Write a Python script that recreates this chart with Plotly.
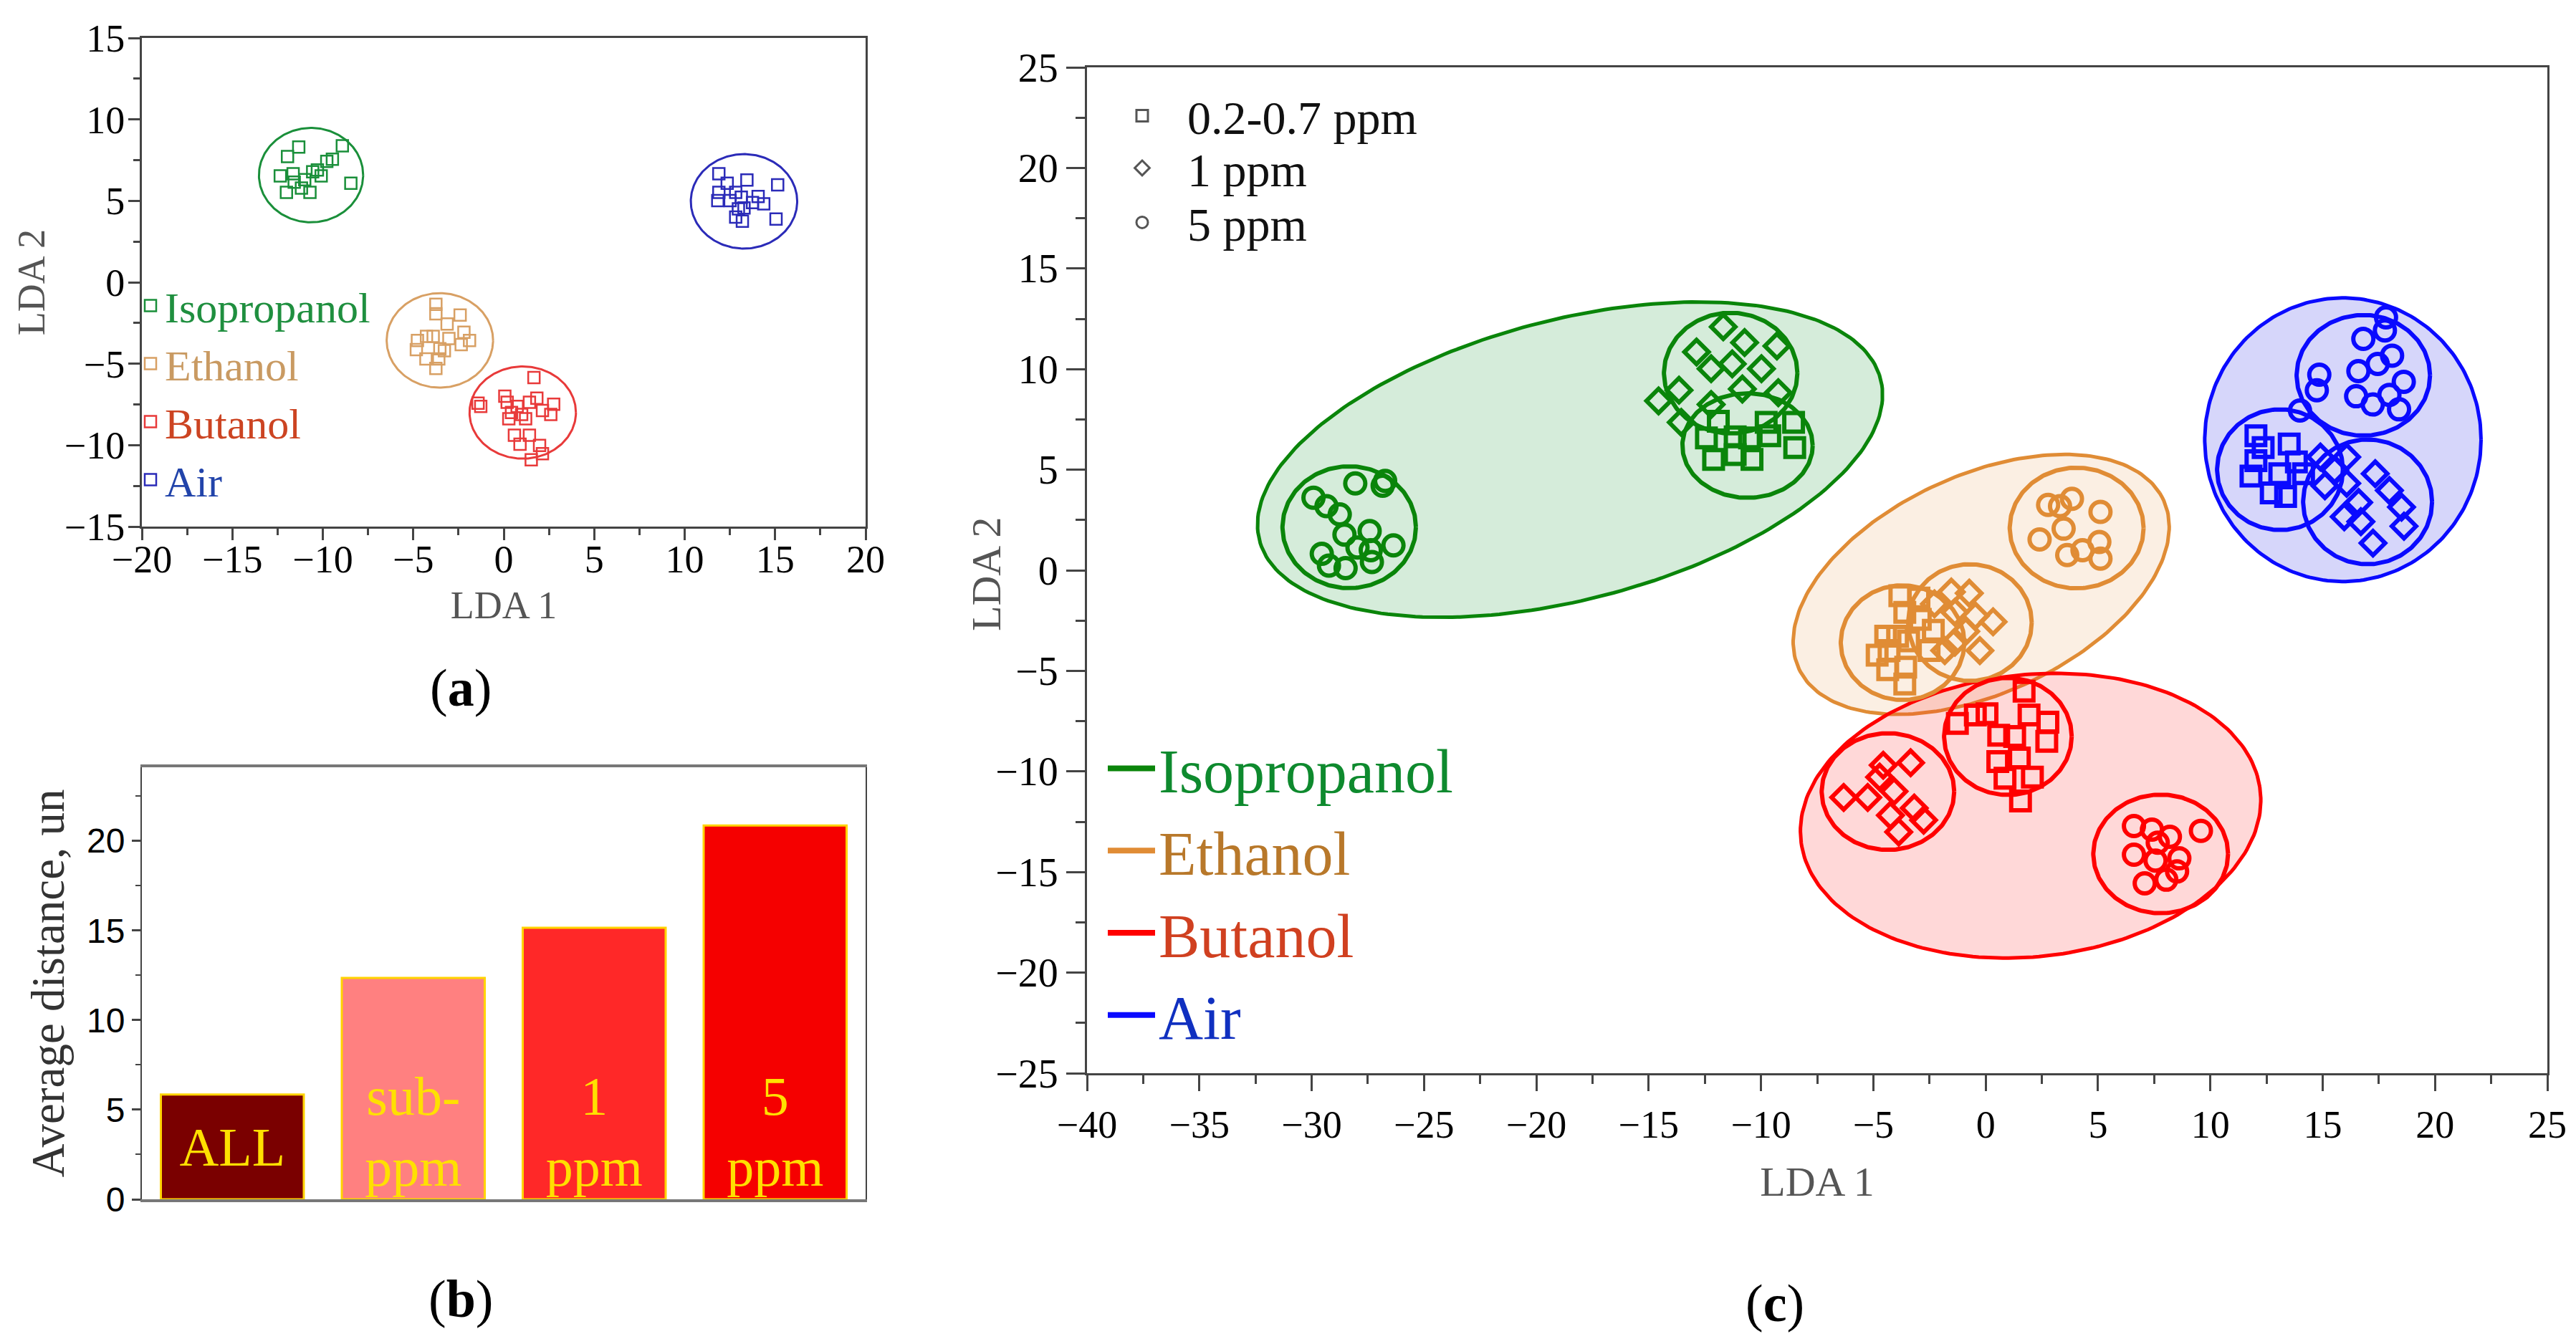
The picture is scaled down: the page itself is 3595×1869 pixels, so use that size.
import numpy as np
import plotly.graph_objects as go

SERIF = "Liberation Serif, Times New Roman, serif"
SANS = "Liberation Sans Narrow, Liberation Sans, Arial, sans-serif"

# ---- panel (a): LDA of all concentrations ----
A_ISO_X = [-11.95, -11.33, -12.35, -11.64, -12.01, -11.58, -11.18, -10.71, -10.56, -10.09, -9.78, -9.47, -8.92, -8.45, -11.0, -10.3]
A_ISO_Y = [7.72, 8.30, 6.53, 6.66, 5.52, 6.15, 5.78, 5.52, 6.79, 6.53, 7.42, 7.55, 8.38, 6.08, 6.3, 6.9]
A_ETH_X = [-3.75, -3.75, -2.41, -3.13, -4.27, -4.77, -4.83, -4.30, -3.75, -3.59, -3.53, -3.03, -2.35, -1.89, -2.2, -3.9, -3.28]
A_ETH_Y = [-1.35, -1.93, -2.01, -2.56, -3.32, -3.57, -4.13, -4.71, -5.29, -4.71, -4.08, -3.45, -3.83, -3.57, -3.07, -3.32, -4.2]
A_BUT_X = [-1.42, -1.27, 0.06, 0.19, 0.43, 0.74, 0.99, 1.21, 1.42, 1.67, 1.83, 2.14, 2.6, 2.76, 0.59, 0.9, 1.42, 1.98, 1.52, 2.14, 0.28]
A_BUT_Y = [-7.42, -7.62, -6.99, -7.37, -8.0, -7.62, -8.12, -8.38, -7.37, -5.85, -7.11, -7.87, -8.12, -7.49, -9.39, -9.94, -9.39, -10.02, -10.9, -10.52, -8.38]
A_AIR_X = [11.89, 12.35, 11.89, 11.83, 12.51, 12.82, 13.13, 13.44, 12.97, 13.28, 13.19, 12.82, 14.06, 14.37, 15.14, 15.05, 13.75]
A_AIR_Y = [6.66, 6.08, 5.52, 5.02, 5.02, 5.52, 5.22, 6.28, 4.51, 4.56, 3.75, 4.0, 5.27, 4.82, 5.98, 3.88, 4.89]
# cluster circles (cx, cy, rx, ry)
A_CIRCLES = [(-10.65, 6.58, 2.88, 2.9), (-3.53, -3.57, 2.94, 2.9), (1.05, -8.0, 2.94, 2.83), (13.28, 4.97, 2.94, 2.9)]

GAS_NAMES = ["Isopropanol", "Ethanol", "Butanol", "Air"]
A_COLORS = ["#1a8f3a", "#d8a064", "#e83a3a", "#2b2bb8"]
A_TEXT_COLORS = ["#1f8f3f", "#c99a62", "#cc4422", "#2244aa"]

# ---- panel (b): average distance ----
BAR_CATS = ["ALL", "sub-ppm", "1 ppm", "5 ppm"]
BAR_TEXT = ["ALL", "sub-<br>ppm", "1<br>ppm", "5<br>ppm"]
BAR_VALUES = [5.85, 12.35, 15.15, 20.85]
BAR_COLORS = ["#7a0000", "#ff8080", "#ff2828", "#f50000"]

# ---- panel (c): LDA per concentration ----
C_ISO_CI_X = [-28.06, -26.73, -26.84, -29.92, -29.34, -28.75, -28.54, -27.42, -27.37, -26.36, -29.55, -29.23, -28.49, -27.32, -27.96]
C_ISO_CI_Y = [4.32, 4.44, 4.20, 3.61, 3.19, 2.78, 1.77, 1.95, 1.0, 1.24, 0.82, 0.23, 0.11, 0.41, 1.13]
C_ISO_DI_X = [-14.56, -13.55, -13.65, -12.22, -12.22, -11.68, -10.73, -9.29, -9.98, -10.83, -9.23, -12.87, -11.28]
C_ISO_DI_Y = [8.42, 7.35, 8.95, 10.02, 8.24, 12.10, 11.32, 11.15, 10.02, 9.01, 8.83, 10.85, 10.26]
C_ISO_SQ_X = [-12.43, -12.11, -11.15, -10.51, -10.40, -9.77, -8.55, -8.50, -9.61, -11.90, -11.15]
C_ISO_SQ_Y = [6.58, 5.51, 5.75, 6.58, 5.51, 7.35, 7.35, 6.10, 6.69, 7.41, 6.63]

C_ETH_CI_X = [3.31, 5.11, 2.40, 3.47, 5.06, 3.63, 5.11, 4.31, 3.84, 2.78]
C_ETH_CI_Y = [3.19, 2.90, 1.53, 2.07, 1.41, 0.76, 0.58, 1.0, 3.55, 3.25]
C_ETH_DI_X = [-2.28, -1.53, -0.73, -1.37, -0.46, 0.33, -0.89, -1.37, -0.26, -1.82]
C_ETH_DI_Y = [-1.67, -1.08, -1.14, -2.09, -2.27, -2.56, -3.04, -3.57, -3.99, -3.99]
C_ETH_SQ_X = [-3.82, -3.60, -2.91, -2.33, -3.92, -4.30, -4.83, -3.43, -2.52, -3.56, -4.36, -3.60, -2.97, -4.45]
C_ETH_SQ_Y = [-1.26, -2.09, -2.44, -2.98, -3.28, -3.99, -4.22, -3.51, -3.99, -4.82, -4.94, -5.65, -1.38, -3.28]

C_BUT_CI_X = [6.60, 7.40, 7.66, 6.60, 7.56, 8.20, 8.62, 8.52, 7.08, 8.04, 9.58]
C_BUT_CI_Y = [-12.71, -12.89, -13.54, -14.14, -14.43, -13.25, -14.32, -14.97, -15.56, -15.38, -12.95]
C_BUT_DI_X = [-6.32, -5.25, -4.56, -4.72, -3.34, -4.08, -4.24, -3.18, -2.76, -3.87]
C_BUT_DI_Y = [-11.29, -11.29, -9.69, -10.28, -9.57, -10.99, -12.18, -11.82, -12.42, -13.01]
C_BUT_SQ_X = [-1.26, 0.06, 1.71, 1.93, 2.77, 0.58, 1.29, 2.72, 0.54, 1.50, 2.08, 0.86, 1.55, -0.46]
C_BUT_SQ_Y = [-7.61, -7.13, -6.01, -7.19, -7.55, -8.20, -8.26, -8.50, -9.51, -9.33, -10.28, -10.34, -11.47, -7.19]

C_AIR_CI_X = [16.81, 17.77, 17.82, 14.85, 14.74, 13.99, 17.45, 18.09, 16.59, 16.49, 17.97, 18.61, 18.40, 17.23]
C_AIR_CI_Y = [11.50, 11.92, 12.57, 9.72, 8.95, 7.94, 10.26, 10.67, 9.90, 8.65, 8.72, 9.37, 8.0, 8.24]
C_AIR_DI_X = [14.90, 15.53, 16.07, 15.10, 16.07, 17.34, 16.60, 17.97, 15.96, 18.51, 17.24, 18.62, 16.70]
C_AIR_DI_Y = [5.63, 4.98, 5.63, 4.20, 4.32, 4.80, 3.37, 3.97, 2.66, 3.14, 1.35, 2.19, 2.42]
C_AIR_SQ_X = [12.03, 12.35, 13.51, 12.03, 13.09, 11.81, 12.71, 13.35, 13.83, 14.15]
C_AIR_SQ_Y = [6.69, 6.10, 6.28, 5.45, 4.80, 4.68, 3.85, 3.67, 5.39, 4.80]

# group ellipses (cx, cy, a, b, angle deg)
C_GROUP_ELL = [(-18.5, 5.5, 14.4, 6.9, 17.1), (-0.2, -0.7, 9.15, 5.3, 29.7),
               (2.0, -12.2, 10.3, 7.0, 8.0), (15.9, 6.49, 6.15, 7.05, 0.0)]
# concentration circles per gas: squares, diamonds, circles (cx, cy, rx, ry)
C_ISO_CIRC = [(-10.6, 6.2, 2.9, 2.6), (-11.35, 9.8, 2.97, 3.0), (-28.33, 2.14, 2.97, 3.03)]
C_ETH_CIRC = [(-3.7, -3.6, 2.75, 2.85), (-0.7, -2.6, 2.75, 2.9), (4.05, 2.10, 2.98, 3.0)]
C_BUT_CIRC = [(0.99, -8.26, 2.84, 2.91), (-4.35, -11.0, 2.95, 2.9), (7.79, -14.10, 3.0, 2.95)]
C_AIR_CIRC = [(13.1, 5.0, 2.8, 3.0), (17.0, 3.4, 2.87, 3.1), (16.81, 9.69, 2.97, 3.0)]

C_COLORS = ["#0a850a", "#e08c35", "#ff0000", "#0a0aff"]
C_FILLS = ["rgba(20,150,50,0.18)", "rgba(225,150,70,0.15)", "rgba(255,40,40,0.18)", "rgba(30,30,230,0.18)"]
C_TEXT_COLORS = ["#0e8a2e", "#b8782a", "#d04020", "#1030c0"]
CONC_NAMES = ["0.2-0.7 ppm", "1 ppm", "5 ppm"]
CONC_SYMBOLS = ["square-open", "diamond-open", "circle-open"]


def ellipse(cx, cy, a, b, ang=0.0, n=240):
    t = np.linspace(0, 2 * np.pi, n)
    th = np.radians(ang)
    x = cx + a * np.cos(t) * np.cos(th) - b * np.sin(t) * np.sin(th)
    y = cy + a * np.cos(t) * np.sin(th) + b * np.sin(t) * np.cos(th)
    return x, y


fig = go.Figure()

# panel (a)
a_points = [(A_ISO_X, A_ISO_Y), (A_ETH_X, A_ETH_Y), (A_BUT_X, A_BUT_Y), (A_AIR_X, A_AIR_Y)]
for i, (cx, cy, rx, ry) in enumerate(A_CIRCLES):
    ex, ey = ellipse(cx, cy, rx, ry)
    fig.add_trace(go.Scatter(x=ex, y=ey, mode="lines", line=dict(color=A_COLORS[i], width=3),
                             showlegend=False, hoverinfo="skip", xaxis="x", yaxis="y"))
for i, (px, py) in enumerate(a_points):
    fig.add_trace(go.Scatter(
        x=px, y=py, mode="markers", xaxis="x", yaxis="y",
        name="<span style='color:%s'>%s</span>" % (A_TEXT_COLORS[i], GAS_NAMES[i]),
        marker=dict(symbol="square-open", size=16, color=A_COLORS[i], line=dict(width=2.5)),
        legend="legend"))

# panel (b)
fig.add_trace(go.Bar(x=BAR_CATS[:1], y=BAR_VALUES[:1], text=BAR_TEXT[:1], width=0.79,
                     marker=dict(color=BAR_COLORS[:1], line=dict(color="#ffd400", width=3)),
                     textposition="inside", insidetextanchor="middle",
                     textfont=dict(family=SERIF, size=76, color="#ffe000"),
                     showlegend=False, xaxis="x2", yaxis="y2"))
fig.add_trace(go.Bar(x=BAR_CATS[1:], y=BAR_VALUES[1:], text=BAR_TEXT[1:], width=0.79,
                     marker=dict(color=BAR_COLORS[1:], line=dict(color="#ffd400", width=3)),
                     textposition="inside", insidetextanchor="start",
                     textfont=dict(family=SERIF, size=76, color="#ffe000"),
                     showlegend=False, xaxis="x2", yaxis="y2"))

# panel (c)
for i, (cx, cy, a, b, ang) in enumerate(C_GROUP_ELL):
    ex, ey = ellipse(cx, cy, a, b, ang)
    fig.add_trace(go.Scatter(x=ex, y=ey, mode="lines", fill="toself", fillcolor=C_FILLS[i],
                             line=dict(color=C_COLORS[i], width=5), showlegend=False,
                             hoverinfo="skip", xaxis="x3", yaxis="y3"))

c_circles = [C_ISO_CIRC, C_ETH_CIRC, C_BUT_CIRC, C_AIR_CIRC]
c_points = [
    [(C_ISO_SQ_X, C_ISO_SQ_Y), (C_ISO_DI_X, C_ISO_DI_Y), (C_ISO_CI_X, C_ISO_CI_Y)],
    [(C_ETH_SQ_X, C_ETH_SQ_Y), (C_ETH_DI_X, C_ETH_DI_Y), (C_ETH_CI_X, C_ETH_CI_Y)],
    [(C_BUT_SQ_X, C_BUT_SQ_Y), (C_BUT_DI_X, C_BUT_DI_Y), (C_BUT_CI_X, C_BUT_CI_Y)],
    [(C_AIR_SQ_X, C_AIR_SQ_Y), (C_AIR_DI_X, C_AIR_DI_Y), (C_AIR_CI_X, C_AIR_CI_Y)],
]
marker_sizes = [26, 26, 28]
for g in range(4):
    for (cx, cy, rx, ry) in c_circles[g]:
        ex, ey = ellipse(cx, cy, rx, ry)
        fig.add_trace(go.Scatter(x=ex, y=ey, mode="lines", line=dict(color=C_COLORS[g], width=6),
                                 showlegend=False, hoverinfo="skip", xaxis="x3", yaxis="y3"))
    for k, (px, py) in enumerate(c_points[g]):
        fig.add_trace(go.Scatter(
            x=px, y=py, mode="markers", showlegend=False, xaxis="x3", yaxis="y3",
            marker=dict(symbol=CONC_SYMBOLS[k], size=marker_sizes[k], color=C_COLORS[g],
                        line=dict(width=6))))

# legends of panel (c): one small legend per concentration, one for the gases
for k in range(3):
    fig.add_trace(go.Scatter(
        x=[None], y=[None], mode="markers", name=CONC_NAMES[k], xaxis="x3", yaxis="y3",
        marker=dict(symbol=CONC_SYMBOLS[k], size=16, color="#555555", line=dict(width=3)),
        legend="legend%d" % (k + 2)))
for g in range(4):
    fig.add_trace(go.Scatter(
        x=[None], y=[None], mode="lines", xaxis="x3", yaxis="y3",
        name="<span style='color:%s'>%s</span>" % (C_TEXT_COLORS[g], GAS_NAMES[g]),
        line=dict(color=C_COLORS[g], width=8), legend="legend5"))

W, H = 3595, 1869


def xdom(l, r):
    return [l / W, r / W]


def ydom(top, bottom):
    return [1 - bottom / H, 1 - top / H]


axis_common = dict(showline=True, linewidth=3, linecolor="#444444", mirror=True, showgrid=False,
                   zeroline=False, ticks="outside", tickwidth=3, tickcolor="#444444",
                   automargin=False)

conc_legends = {}
for k, top in enumerate([104, 177, 253]):
    conc_legends["legend%d" % (k + 2)] = dict(
        x=1523 / W, y=1 - top / H, xanchor="left", yanchor="top", bgcolor="rgba(0,0,0,0)",
        font=dict(family=SERIF, size=66, color="#111111"), itemwidth=116)

fig.update_layout(
    width=W, height=H, margin=dict(l=0, r=0, t=0, b=0),
    paper_bgcolor="white", plot_bgcolor="white", barmode="overlay",
    font=dict(family=SERIF, color="black"),
    xaxis=dict(axis_common, domain=xdom(190, 1200), range=[-20, 20], dtick=5, tick0=-20,
               ticklen=16, ticklabelstandoff=-20,
               minor=dict(dtick=2.5, ticklen=9, tickwidth=2.5, ticks="outside", tickcolor="#444444"),
               tickfont=dict(family=SERIF, size=54, color="black"),
               title=dict(text="LDA 1", font=dict(family=SERIF, size=54, color="#555555"), standoff=16),
               anchor="y"),
    yaxis=dict(axis_common, domain=ydom(45, 727), range=[-15, 15], dtick=5, tick0=-15,
               ticklen=16, ticklabelstandoff=-6,
               minor=dict(dtick=2.5, ticklen=9, tickwidth=2.5, ticks="outside", tickcolor="#444444"),
               tickfont=dict(family=SERIF, size=54, color="black"),
               title=dict(text="LDA 2", font=dict(family=SERIF, size=54, color="#555555"), standoff=10),
               anchor="x"),
    xaxis2=dict(axis_common, domain=xdom(190, 1200), range=[-0.5, 3.5], ticks="",
                showticklabels=False, type="category", categoryorder="array",
                categoryarray=BAR_CATS, linecolor="#777777", linewidth=4, anchor="y2"),
    yaxis2=dict(axis_common, domain=ydom(1063, 1666), range=[0, 24.1], dtick=5, tick0=0,
                ticklen=12, minor=dict(dtick=2.5, ticklen=7, tickwidth=2, ticks="outside",
                                       tickcolor="#444444"),
                linewidth=2, tickfont=dict(family=SANS, size=48, color="black"),
                title=dict(text="Average distance, un", font=dict(family=SERIF, size=65, color="#333333"),
                           standoff=10),
                anchor="x2"),
    xaxis3=dict(axis_common, domain=xdom(1509, 3547), range=[-40, 25], dtick=5, tick0=-40,
                ticklen=22, minor=dict(dtick=2.5, ticklen=12, tickwidth=2.5, ticks="outside",
                                       tickcolor="#444444"),
                tickfont=dict(family=SERIF, size=54, color="black"),
                title=dict(text="LDA 1", font=dict(family=SERIF, size=58, color="#555555"), standoff=30),
                anchor="y3"),
    yaxis3=dict(axis_common, domain=ydom(86, 1490), range=[-25, 25], dtick=5, tick0=-25,
                ticklen=26, minor=dict(dtick=2.5, ticklen=13, tickwidth=2.5, ticks="outside",
                                       tickcolor="#444444"),
                tickfont=dict(family=SERIF, size=56, color="black"),
                anchor="x3"),
    legend=dict(x=182 / W, y=1 - 373 / H, xanchor="left", yanchor="top", bgcolor="rgba(0,0,0,0)",
                font=dict(family=SERIF, size=60), traceorder="normal"),
    legend5=dict(x=1533 / W, y=1 - 1002 / H, xanchor="left", yanchor="top", bgcolor="rgba(0,0,0,0)",
                 font=dict(family=SERIF, size=86), traceorder="normal", itemwidth=66),
    annotations=[
        dict(text="LDA 2", x=1368 / W, y=1 - 793 / H, xref="paper", yref="paper", textangle=-90,
             xanchor="center", yanchor="middle", showarrow=False,
             font=dict(family=SERIF, size=58, color="#555555")),
        dict(text="(<b>a</b>)", x=635 / W, y=1 - 952 / H, xref="paper", yref="paper",
             xanchor="center", yanchor="middle", showarrow=False,
             font=dict(family=SERIF, size=74, color="black")),
        dict(text="(<b>b</b>)", x=635 / W, y=1 - 1805 / H, xref="paper", yref="paper",
             xanchor="center", yanchor="middle", showarrow=False,
             font=dict(family=SERIF, size=74, color="black")),
        dict(text="(<b>c</b>)", x=2469 / W, y=1 - 1811 / H, xref="paper", yref="paper",
             xanchor="center", yanchor="middle", showarrow=False,
             font=dict(family=SERIF, size=74, color="black")),
    ],
    **conc_legends,
)

fig.write_html("out.html")
